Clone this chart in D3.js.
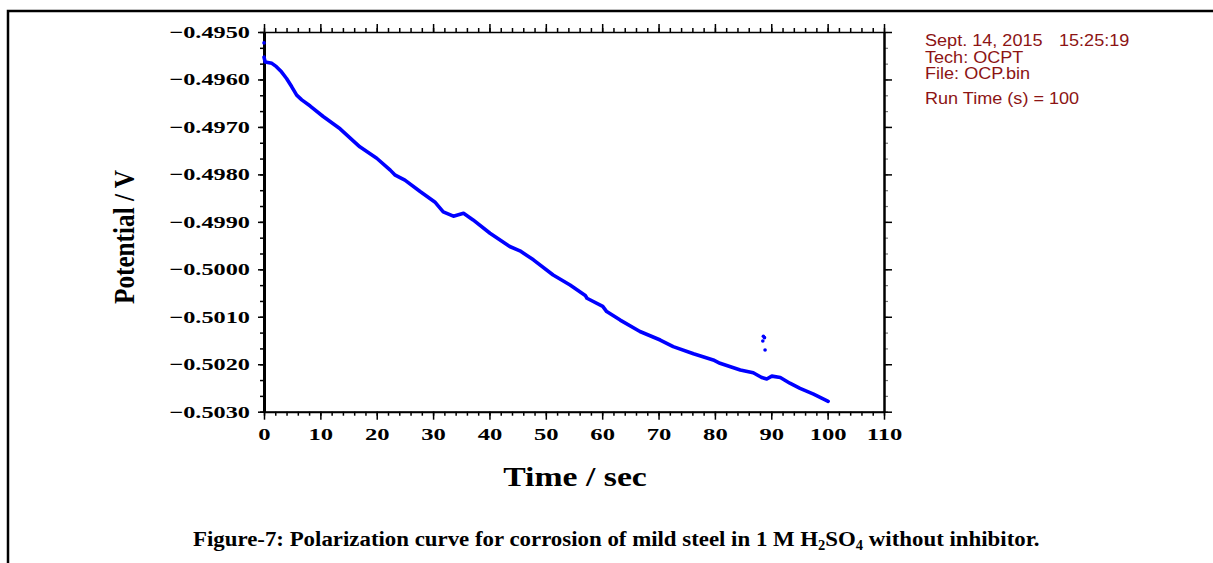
<!DOCTYPE html>
<html>
<head>
<meta charset="utf-8">
<script src="https://cdn.jsdelivr.net/npm/d3@7"></script>
<style>
body { margin: 0; background: #fff; }
svg { display: block; }
.tick text { font-family: "Liberation Serif", "Times New Roman", serif; font-weight: bold; font-size: 17px; fill: #000; }
.info { font-family: "Liberation Sans", Arial, sans-serif; font-size: 16px; fill: #8c1414; }
.serif { font-family: "Liberation Serif", "Times New Roman", serif; font-weight: bold; fill: #000; }
</style>
</head>
<body>
<svg id="chart" width="1213" height="563"></svg>
<script>
// values
var timeSec = [0, 0.2, 1.4, 2.2, 3.1, 4.0, 4.9, 5.8, 6.7, 8.2, 10.5, 13.5, 17.0, 20.0, 22.4, 23.2,
    25.0, 27.7, 30.3, 31.8, 33.6, 35.4, 37.1, 40.1, 43.6, 45.4, 47.8, 51.3, 54.3, 57.0, 57.3,
    60.1, 60.8, 63.2, 66.7, 70.3, 72.6, 76.2, 79.7, 80.9, 84.5, 86.8, 88.3, 89.2, 90.1, 91.6,
    93.3, 95.1, 97.5, 100.1];
var potentialV = [-0.49553, -0.49563, -0.49566, -0.49573, -0.49584, -0.49598, -0.49615, -0.49633,
    -0.49643, -0.49656, -0.49678, -0.49704, -0.49742, -0.49766, -0.49791, -0.49801,
    -0.49812, -0.49836, -0.49858, -0.49879, -0.49888, -0.49882, -0.49896, -0.49924, -0.49952,
    -0.49961, -0.49980, -0.50012, -0.50033, -0.50055, -0.50061,
    -0.50078, -0.50089, -0.50107, -0.50131, -0.50149, -0.50163, -0.50178, -0.50191, -0.50198,
    -0.50212, -0.50218, -0.50228, -0.50231, -0.50225, -0.50228,
    -0.50240, -0.50251, -0.50263, -0.50278];

// stray points
var strayT = [0, 88.6, 88.8, 88.5, 88.9];
var strayV = [-0.49523, -0.50141, -0.50144, -0.50151, -0.50170];

var xTicks = [0, 10, 20, 30, 40, 50, 60, 70, 80, 90, 100, 110];
var yTicks = [-0.4950, -0.4960, -0.4970, -0.4980, -0.4990, -0.5000, -0.5010, -0.5020, -0.5030];
var xMinor = d3.range(0, 111, 2);
var yMinor = d3.range(0, 25).map(function (i) { return -0.4950 - i * 0.001 / 3; });

var infoLines = ["Sept. 14, 2015", "Tech: OCPT", "File: OCP.bin", "Run Time (s) = 100"];
var infoTime = "15:25:19";

var svg = d3.select("#chart");

var x = d3.scaleLinear().domain([0, 110]).range([264, 884]);
var y = d3.scaleLinear().domain([-0.4950, -0.5030]).range([32, 411.7]);

// page frame
svg.append("path")
    .attr("d", "M8,563V11H1213")
    .attr("fill", "none")
    .attr("stroke", "#000")
    .attr("stroke-width", 2.5);

//==================== axes ====================
var fmtY = d3.format(".4f");

// minor ticks first
svg.append("g").attr("transform", "translate(0,411.7)")
    .call(d3.axisBottom(x).tickValues(xMinor).tickSize(4).tickFormat(""));
svg.append("g").attr("transform", "translate(0,32)")
    .call(d3.axisTop(x).tickValues(xMinor).tickSize(4).tickFormat(""));
svg.append("g").attr("transform", "translate(264,0)")
    .call(d3.axisLeft(y).tickValues(yMinor).tickSize(4).tickFormat(""));
var rMinor = svg.append("g").attr("transform", "translate(884,0)")
    .call(d3.axisRight(y).tickValues(yMinor).tickSize(4).tickFormat(""));
rMinor.selectAll("line").attr("stroke", "#777");

// majors
var gx = svg.append("g").attr("transform", "translate(0,411.7)")
    .call(d3.axisBottom(x).tickValues(xTicks).tickSize(8).tickSizeOuter(0).tickPadding(8).tickFormat(d3.format("d")));
gx.selectAll("text").attr("transform", "scale(1.45,1)");
gx.select(".domain").attr("stroke-width", 2);

var gt = svg.append("g").attr("transform", "translate(0,32)")
    .call(d3.axisTop(x).tickValues(xTicks).tickSize(8).tickSizeOuter(0).tickFormat(""));
gt.select(".domain").attr("stroke-width", 1.5);

var gy = svg.append("g").attr("transform", "translate(264,0)")
    .call(d3.axisLeft(y).tickValues(yTicks).tickSize(6).tickSizeOuter(0).tickPadding(8).tickFormat(fmtY));
gy.selectAll("text").attr("transform", "scale(1.43,1)").attr("x", -14 / 1.43);
gy.select(".domain").attr("stroke-width", 3);

var gr = svg.append("g").attr("transform", "translate(884,0)")
    .call(d3.axisRight(y).tickValues(yTicks).tickSize(8).tickSizeOuter(0).tickFormat(""));
gr.select(".domain").attr("stroke-width", 2.5);

svg.selectAll(".tick line").attr("stroke-width", 1.5);
rMinor.selectAll("line").attr("stroke-width", 1.2);

//==================== data ====================
var pts = timeSec.map(function (t, i) { return [t, potentialV[i]]; });
var line = d3.line()
    .x(function (d) { return x(d[0]); })
    .y(function (d) { return y(d[1]); });

svg.append("path")
    .attr("d", line(pts))
    .attr("fill", "none")
    .attr("stroke", "#0000ff")
    .attr("stroke-width", 3.6)
    .attr("stroke-linejoin", "round")
    .attr("stroke-linecap", "round");

svg.selectAll(".stray").data(strayT).enter().append("circle")
    .attr("class", "stray")
    .attr("cx", function (d) { return x(d); })
    .attr("cy", function (d, i) { return y(strayV[i]); })
    .attr("r", 1.8)
    .attr("fill", "#0000ff");

//==================== titles ====================
svg.append("text").attr("class", "serif")
    .attr("transform", "translate(575,486) scale(1.25,1)")
    .attr("text-anchor", "middle")
    .style("font-size", "27px")
    .text("Time / sec");

svg.append("text").attr("class", "serif")
    .attr("transform", "translate(134,237) rotate(-90) scale(0.87,1)")
    .attr("text-anchor", "middle")
    .style("font-size", "29px")
    .text("Potential / V");

// info block, top right
var infoY = [46, 62.5, 78.5, 103.5];
svg.selectAll(".infoline").data(infoLines).enter().append("text")
    .attr("class", "info infoline")
    .attr("transform", function (d, i) { return "translate(925," + infoY[i] + ") scale(1.13,1)"; })
    .text(function (d) { return d; });
svg.append("text").attr("class", "info")
    .attr("transform", "translate(1059,46) scale(1.13,1)")
    .text(infoTime);

// caption
var cap = svg.append("text").attr("class", "serif")
    .style("font-size", "22px");
cap.append("tspan").text("Figure-7: Polarization curve for corrosion of mild steel in 1 M H");
cap.append("tspan").attr("dy", 4).style("font-size", "14px").text("2");
cap.append("tspan").attr("dy", -4).text("SO");
cap.append("tspan").attr("dy", 4).style("font-size", "14px").text("4");
cap.append("tspan").attr("dy", -4).text(" without inhibitor.");
var capW = cap.node().getBBox().width;
cap.attr("transform", "translate(193,546) scale(" + (847 / capW) + ",1)");
</script>
</body>
</html>
